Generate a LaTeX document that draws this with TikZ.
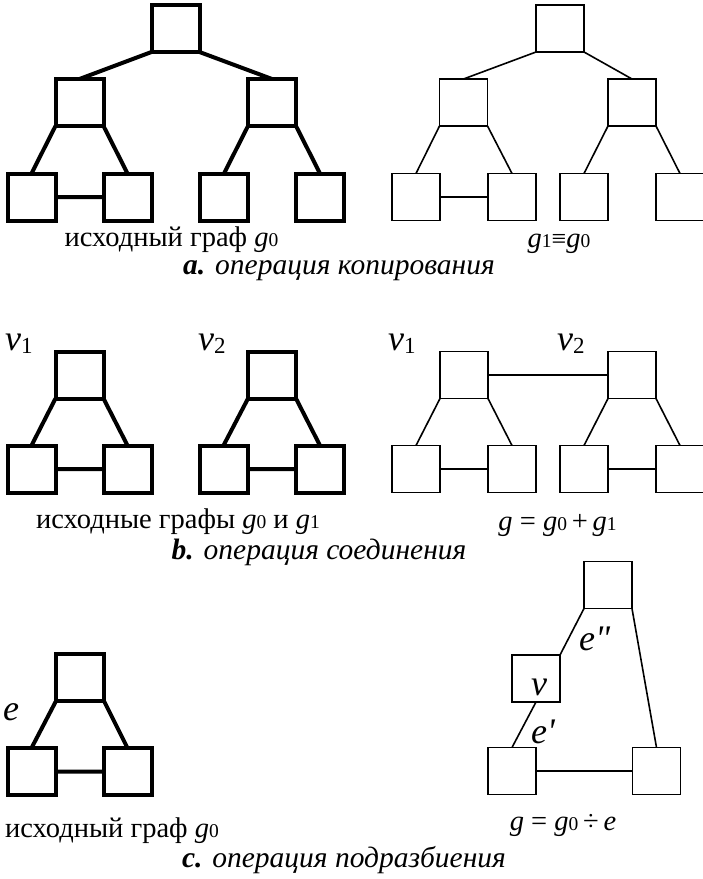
\documentclass[tikz,border=0pt]{standalone}
\usepackage{fontspec}
\setmainfont{Liberation Serif}
\newfontfamily\rawserif{Liberation Serif}
\newcommand\sbs[1]{{\fontsize{19.5}{19.5}\selectfont\upshape #1}}
\newcommand\gvar{\textit{g}}
\newcommand\bigv[1]{{\fontsize{36}{36}\selectfont\itshape v}\raisebox{-3pt}{\fontsize{23}{23}\selectfont #1}}
\begin{document}
\begin{tikzpicture}[x=1pt,y=-1pt,
  box/.style={draw,minimum width=48pt,minimum height=47pt,inner sep=0pt,outer sep=0pt},
  thk/.style={line width=4pt},
  thn/.style={line width=1.6pt},
  lbl/.style={inner sep=0pt,anchor=base,text depth=5.5pt,font=\fontsize{28.5}{28.5}\selectfont},
  captxt/.style={inner sep=0pt,anchor=base,text height=19pt,text depth=6pt,font=\fontsize{29.5}{29.5}\selectfont\itshape},
  bigtxt/.style={inner sep=0pt,anchor=base west,font=\fontsize{36}{36}\selectfont\rawserif\itshape}]
\useasboundingbox (0,0) rectangle (703,879);
% ---------- a, left ----------
\begin{scope}[thk]
\node[box] (a0) at (175.5,28.5) {};
\node[box] (a1) at (79.5,102.5) {};
\node[box] (a2) at (272,102.5) {};
\node[box] (a3) at (31.5,197) {};
\node[box] (a4) at (127.5,197) {};
\node[box] (a5) at (224,197) {};
\node[box] (a6) at (320,197) {};
\draw (a0.south west) -- (a1.north) (a0.south east) -- (a2.north)
      (a1.south west) -- (a3.north) (a1.south east) -- (a4.north)
      (a2.south west) -- (a5.north) (a2.south east) -- (a6.north)
      (a3.east) -- (a4.west);
\end{scope}
% ---------- a, right ----------
\begin{scope}[thn]
\node[box] (b0) at (560,28.5) {};
\node[box] (b1) at (463.5,102.5) {};
\node[box] (b2) at (632,102.5) {};
\node[box] (b3) at (416,197) {};
\node[box] (b4) at (512,197) {};
\node[box] (b5) at (584,197) {};
\node[box] (b6) at (680,197) {};
\draw (b0.south west) -- (b1.north) (b0.south east) -- (b2.north)
      (b1.south west) -- (b3.north) (b1.south east) -- (b4.north)
      (b2.south west) -- (b5.north) (b2.south east) -- (b6.north)
      (b3.east) -- (b4.west);
\end{scope}
\node[lbl] (ta1) at (171.5,246) {исходный граф \gvar\sbs{0}};
\node[lbl] (ta2) at (559,247) {\gvar\sbs{1}{\fontsize{26}{26}\selectfont ≡}\gvar\sbs{0}};
\node[captxt,text height=14pt] (ta3) at (339,274) {\textbf{a.} операция копирования};
% ---------- b, left ----------
\begin{scope}[thk]
\node[box] (c0) at (79.5,375) {};
\node[box] (c1) at (31.5,469) {};
\node[box] (c2) at (127.5,469) {};
\node[box] (d0) at (272,375) {};
\node[box] (d1) at (223.5,469) {};
\node[box] (d2) at (320,469) {};
\draw (c0.south west) -- (c1.north) (c0.south east) -- (c2.north) (c1.east) -- (c2.west)
      (d0.south west) -- (d1.north) (d0.south east) -- (d2.north) (d1.east) -- (d2.west);
\end{scope}
\node[inner sep=0pt,anchor=base west] (v1a) at (5,350) {\bigv{1}};
\node[inner sep=0pt,anchor=base west] (v2a) at (198,350) {\bigv{2}};
% ---------- b, right ----------
\begin{scope}[thn]
\node[box] (e0) at (464,375) {};
\node[box] (e1) at (416,469) {};
\node[box] (e2) at (512,469) {};
\node[box] (f0) at (632,375) {};
\node[box] (f1) at (584,469) {};
\node[box] (f2) at (680,469) {};
\draw (e0.south west) -- (e1.north) (e0.south east) -- (e2.north) (e1.east) -- (e2.west)
      (f0.south west) -- (f1.north) (f0.south east) -- (f2.north) (f1.east) -- (f2.west)
      (e0.east) -- (f0.west);
\end{scope}
\node[inner sep=0pt,anchor=base west] (v1b) at (388,350) {\bigv{1}};
\node[inner sep=0pt,anchor=base west] (v2b) at (557,350) {\bigv{2}};
\node[lbl] (tb1) at (178,528) {исходные графы \gvar\sbs{0} и \gvar\sbs{1}};
\node[lbl] (tb2) at (557.5,530) {\gvar\ = \gvar\sbs{0}\,+\,\gvar\sbs{1}};
\node[captxt] (tb3) at (319,559) {\textbf{b.} операция соединения};
% ---------- c, left ----------
\begin{scope}[thk]
\node[box] (g0) at (80,677.5) {};
\node[box] (g1) at (31.5,771.5) {};
\node[box] (g2) at (127.5,771.5) {};
\draw (g0.south west) -- (g1.north) (g0.south east) -- (g2.north) (g1.east) -- (g2.west);
\end{scope}
\node[bigtxt] (le) at (3,720) {e};
\node[lbl,anchor=base west] (tc1) at (5,837) {исходный граф \gvar\sbs{0}};
% ---------- c, right ----------
\begin{scope}[thn]
\node[box] (h0) at (608,585) {};
\node[box] (hv) at (536,678.5) {};
\node[box] (h1) at (512,771) {};
\node[box] (h2) at (656.5,771) {};
\draw (h0.south west) -- (hv.north east) (hv.south) -- (h1.north)
      (h0.south east) -- (h2.north) (h1.east) -- (h2.west);
\end{scope}
\node[bigtxt] (le2) at (579,650) {e"};
\node[bigtxt] (lv) at (531,695) {v};
\node[bigtxt] (le1) at (531,743) {e'};
\node[lbl] (tc2) at (563,830) {\gvar\ = \gvar\sbs{0}\,÷\,\textit{e}};
\node[captxt] (tc3) at (344,867) {\textbf{c.} операция подразбиения};
\end{tikzpicture}
\end{document}
